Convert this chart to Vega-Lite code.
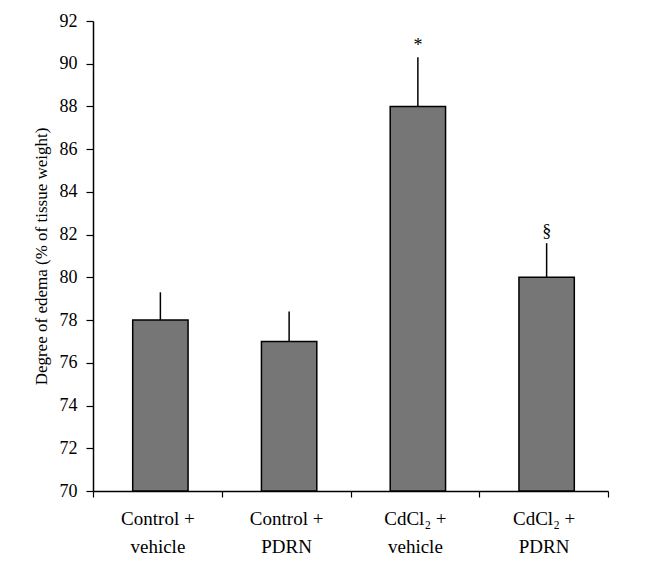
{
  "$schema": "https://vega.github.io/schema/vega-lite/v6.json",
  "autosize": {"type": "none"},
  "width": 515,
  "height": 470,
  "padding": {"left": 93, "top": 21, "right": 43, "bottom": 74},
  "background": "white",
  "config": {"view": {"stroke": null}, "font": "Liberation Serif",
    "axis": {"labelFont": "Liberation Serif", "titleFont": "Liberation Serif"},
    "text": {"font": "Liberation Serif"}},
  "data": {"values": [
    {"group": "Control +|vehicle", "value": 78, "upper": 79.3, "mark": ""},
    {"group": "Control +|PDRN", "value": 77, "upper": 78.4, "mark": ""},
    {"group": "CdCl₂ +|vehicle", "value": 88, "upper": 90.3, "mark": "*"},
    {"group": "CdCl₂ +|PDRN", "value": 80, "upper": 81.6, "mark": "§"}
  ]},
  "encoding": {
    "x": {"field": "group", "type": "nominal", "sort": null,
      "scale": {"paddingInner": 0, "paddingOuter": 0},
      "axis": {"title": null, "labelAngle": 0, "labelExpr": "split(datum.label, '|')",
        "labelFontSize": 19, "labelColor": "black",
        "labelLineHeight": 28, "labelPadding": 12,
        "tickBand": "extent", "tickSize": 6, "tickColor": "black", "domainColor": "black", "domainWidth": 1.5, "tickWidth": 1.2}}
  },
  "layer": [
    {"mark": {"type": "rule", "color": "black", "strokeWidth": 1.5, "xOffset": 3},
      "encoding": {"y": {"field": "value", "type": "quantitative"}, "y2": {"field": "upper"}}},
    {"mark": {"type": "bar", "fill": "#767676", "stroke": "black", "strokeWidth": 1.5, "width": {"band": 0.43}, "xOffset": 3},
      "encoding": {"y": {"field": "value", "type": "quantitative",
        "scale": {"domain": [70, 92], "nice": false, "zero": false},
        "axis": {"title": "Degree of edema (% of tissue weight)", "values": [70,72,74,76,78,80,82,84,86,88,90,92],
          "grid": false, "labelFontSize": 18, "labelColor": "black", "labelPadding": 9,
          "titleFontSize": 17, "titleFontWeight": "normal", "titleColor": "black", "titlePadding": 9,
          "tickSize": 7, "tickColor": "black", "domainColor": "black", "domainWidth": 1.5, "tickWidth": 1.2}},
        "y2": {"datum": 70}}},
    {"mark": {"type": "text", "baseline": "bottom", "dy": -2, "xOffset": 3, "fontSize": 18, "color": "black"},
      "encoding": {"y": {"field": "upper", "type": "quantitative"}, "text": {"field": "mark"}}}
  ]
}
